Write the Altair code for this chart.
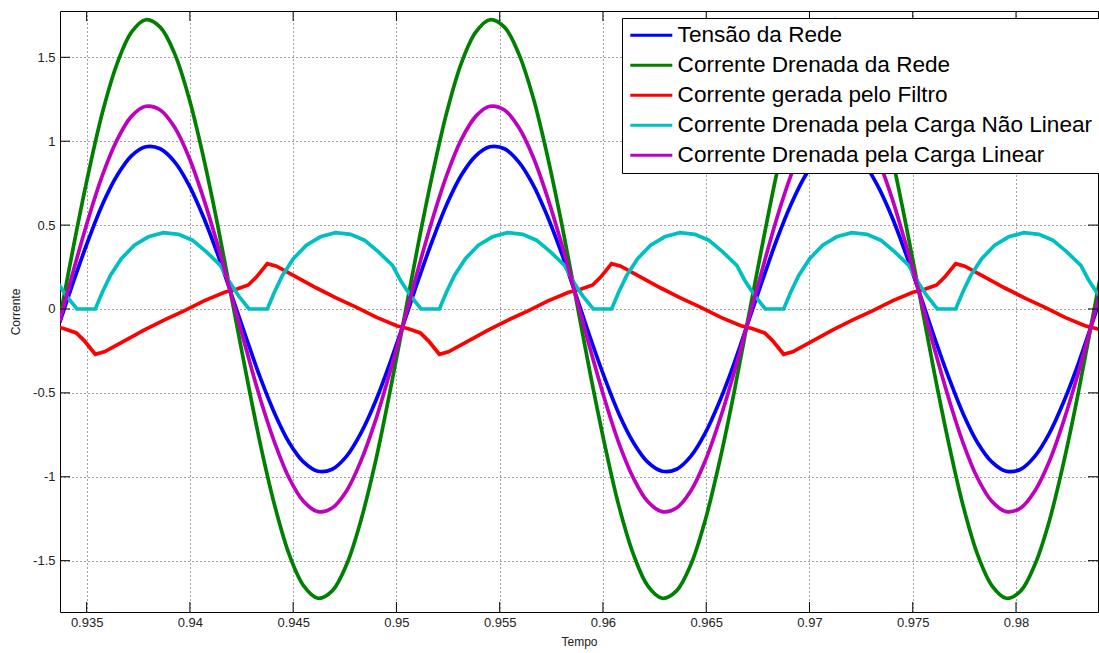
import altair as alt
import pandas as pd

nomes = [
    "Tensão da Rede",
    "Corrente Drenada da Rede",
    "Corrente gerada pelo Filtro",
    "Corrente Drenada pela Carga Não Linear",
    "Corrente Drenada pela Carga Linear",
]
cores = ["#0000FF", "#008000", "#FF0000", "#00BFBF", "#BF00BF"]

tempo = [
    0.93370, 0.93439, 0.93509, 0.93578, 0.93648, 0.93717, 0.93787, 0.93856, 0.93926, 0.93995, 0.94064, 0.94134,
    0.94203, 0.94273, 0.94342, 0.94412, 0.94481, 0.94551, 0.94620, 0.94689, 0.94759, 0.94828, 0.94898, 0.94967,
    0.95037, 0.95106, 0.95176, 0.95245, 0.95314, 0.95384, 0.95453, 0.95523, 0.95592, 0.95662, 0.95731, 0.95801,
    0.95870, 0.95939, 0.96009, 0.96078, 0.96148, 0.96217, 0.96287, 0.96356, 0.96426, 0.96495, 0.96564, 0.96634,
    0.96703, 0.96773, 0.96842, 0.96912, 0.96981, 0.97051, 0.97120, 0.97189, 0.97259, 0.97328, 0.97398, 0.97467,
    0.97537, 0.97606, 0.97676, 0.97745, 0.97814, 0.97884, 0.97953, 0.98023, 0.98092, 0.98162, 0.98231, 0.98301,
    0.98370, 0.98439,
]

tensao_rede = [
    -0.080, 0.173, 0.414, 0.627, 0.797, 0.913, 0.967, 0.955, 0.877, 0.740, 0.553, 0.328,
    0.080, -0.173, -0.414, -0.627, -0.797, -0.913, -0.967, -0.955, -0.877, -0.740, -0.553, -0.328,
    -0.080, 0.173, 0.414, 0.627, 0.797, 0.913, 0.967, 0.955, 0.877, 0.740, 0.553, 0.328,
    0.080, -0.173, -0.414, -0.627, -0.797, -0.913, -0.967, -0.955, -0.877, -0.740, -0.553, -0.328,
    -0.080, 0.173, 0.414, 0.627, 0.797, 0.913, 0.967, 0.955, 0.877, 0.740, 0.553, 0.328,
    0.080, -0.173, -0.414, -0.627, -0.797, -0.913, -0.967, -0.955, -0.877, -0.740, -0.553, -0.328,
    -0.080, 0.173,
]

corrente_rede = [
    -0.058, 0.390, 0.811, 1.178, 1.464, 1.650, 1.724, 1.680, 1.522, 1.260, 0.913, 0.503,
    0.058, -0.390, -0.811, -1.178, -1.464, -1.650, -1.724, -1.680, -1.522, -1.260, -0.913, -0.503,
    -0.058, 0.390, 0.811, 1.178, 1.464, 1.650, 1.724, 1.680, 1.522, 1.260, 0.913, 0.503,
    0.058, -0.390, -0.811, -1.178, -1.464, -1.650, -1.724, -1.680, -1.522, -1.260, -0.913, -0.503,
    -0.058, 0.390, 0.811, 1.178, 1.464, 1.650, 1.724, 1.680, 1.522, 1.260, 0.913, 0.503,
    0.058, -0.390, -0.811, -1.178, -1.464, -1.650, -1.724, -1.680, -1.522, -1.260, -0.913, -0.503,
    -0.058, 0.390,
]

corrente_carga_linear = [
    -0.073, 0.242, 0.541, 0.802, 1.009, 1.148, 1.208, 1.186, 1.083, 0.906, 0.667, 0.383,
    0.073, -0.242, -0.541, -0.802, -1.009, -1.148, -1.208, -1.186, -1.083, -0.906, -0.667, -0.383,
    -0.073, 0.242, 0.541, 0.802, 1.009, 1.148, 1.208, 1.186, 1.083, 0.906, 0.667, 0.383,
    0.073, -0.242, -0.541, -0.802, -1.009, -1.148, -1.208, -1.186, -1.083, -0.906, -0.667, -0.383,
    -0.073, 0.242, 0.541, 0.802, 1.009, 1.148, 1.208, 1.186, 1.083, 0.906, 0.667, 0.383,
    0.073, -0.242, -0.541, -0.802, -1.009, -1.148, -1.208, -1.186, -1.083, -0.906, -0.667, -0.383,
    -0.073, 0.242,
]

tempo_filtro = [
    0.93334,
    0.93392, 0.93450, 0.93489, 0.93542, 0.93586, 0.93683, 0.93780, 0.93877, 0.93974, 0.94071, 0.94168,
    0.94225, 0.94283, 0.94322, 0.94375, 0.94419, 0.94516, 0.94613, 0.94710, 0.94807, 0.94904, 0.95001,
    0.95058, 0.95116, 0.95155, 0.95208, 0.95252, 0.95349, 0.95446, 0.95543, 0.95640, 0.95737, 0.95834,
    0.95892, 0.95950, 0.95989, 0.96042, 0.96086, 0.96183, 0.96280, 0.96377, 0.96474, 0.96571, 0.96668,
    0.96725, 0.96783, 0.96822, 0.96875, 0.96919, 0.97016, 0.97113, 0.97210, 0.97307, 0.97404, 0.97501,
    0.97558, 0.97616, 0.97655, 0.97708, 0.97752, 0.97849, 0.97946, 0.98043, 0.98140, 0.98237, 0.98334,
    0.98392, 0.98450,
]
corrente_filtro = [
    -0.100,
    -0.118, -0.143, -0.190, -0.270, -0.255, -0.190, -0.125, -0.065, -0.010, 0.050, 0.100,
    0.118, 0.143, 0.190, 0.270, 0.255, 0.190, 0.125, 0.065, 0.010, -0.050, -0.100,
    -0.118, -0.143, -0.190, -0.270, -0.255, -0.190, -0.125, -0.065, -0.010, 0.050, 0.100,
    0.118, 0.143, 0.190, 0.270, 0.255, 0.190, 0.125, 0.065, 0.010, -0.050, -0.100,
    -0.118, -0.143, -0.190, -0.270, -0.255, -0.190, -0.125, -0.065, -0.010, 0.050, 0.100,
    0.118, 0.143, 0.190, 0.270, 0.255, 0.190, 0.125, 0.065, 0.010, -0.050, -0.100,
    -0.118, -0.143,
]

tempo_nao_linear = [
    0.93314, 0.93353, 0.93401,
    0.93453, 0.93542, 0.93576, 0.93615, 0.93668, 0.93731, 0.93799, 0.93872, 0.93945, 0.94012, 0.94080, 0.94148, 0.94187, 0.94235,
    0.94286, 0.94375, 0.94409, 0.94448, 0.94501, 0.94564, 0.94632, 0.94705, 0.94778, 0.94845, 0.94913, 0.94981, 0.95020, 0.95068,
    0.95119, 0.95208, 0.95242, 0.95281, 0.95334, 0.95397, 0.95465, 0.95538, 0.95611, 0.95678, 0.95746, 0.95814, 0.95853, 0.95901,
    0.95953, 0.96042, 0.96076, 0.96115, 0.96168, 0.96231, 0.96299, 0.96372, 0.96445, 0.96512, 0.96580, 0.96648, 0.96687, 0.96735,
    0.96786, 0.96875, 0.96909, 0.96948, 0.97001, 0.97064, 0.97132, 0.97205, 0.97278, 0.97345, 0.97413, 0.97481, 0.97520, 0.97568,
    0.97619, 0.97708, 0.97742, 0.97781, 0.97834, 0.97897, 0.97965, 0.98038, 0.98111, 0.98178, 0.98246, 0.98314, 0.98353, 0.98401,
    0.98453,
]
corrente_nao_linear = [
    0.26, 0.17, 0.08,
    0.0, 0.0, 0.10, 0.20, 0.30, 0.38, 0.43, 0.455, 0.445, 0.41, 0.34, 0.26, 0.17, 0.08,
    0.0, 0.0, 0.10, 0.20, 0.30, 0.38, 0.43, 0.455, 0.445, 0.41, 0.34, 0.26, 0.17, 0.08,
    0.0, 0.0, 0.10, 0.20, 0.30, 0.38, 0.43, 0.455, 0.445, 0.41, 0.34, 0.26, 0.17, 0.08,
    0.0, 0.0, 0.10, 0.20, 0.30, 0.38, 0.43, 0.455, 0.445, 0.41, 0.34, 0.26, 0.17, 0.08,
    0.0, 0.0, 0.10, 0.20, 0.30, 0.38, 0.43, 0.455, 0.445, 0.41, 0.34, 0.26, 0.17, 0.08,
    0.0, 0.0, 0.10, 0.20, 0.30, 0.38, 0.43, 0.455, 0.445, 0.41, 0.34, 0.26, 0.17, 0.08,
    0.0,
]

x_ticks = [0.935, 0.94, 0.945, 0.95, 0.955, 0.96, 0.965, 0.97, 0.975, 0.98]
y_ticks = [-1.5, -1.0, -0.5, 0.0, 0.5, 1.0, 1.5]

series = [
    (nomes[0], tempo, tensao_rede, "catmull-rom"),
    (nomes[1], tempo, corrente_rede, "catmull-rom"),
    (nomes[2], tempo_filtro, corrente_filtro, "linear"),
    (nomes[3], tempo_nao_linear, corrente_nao_linear, "linear"),
    (nomes[4], tempo, corrente_carga_linear, "catmull-rom"),
]

rows = []
for nome, ts, vs, _ in series:
    for t, v in zip(ts, vs):
        rows.append({"t": t, "v": v, "serie": nome})
df = pd.DataFrame(rows)

W, H = 1038, 601
FONT = "Liberation Sans"
x_scale = alt.Scale(domain=[0.93371, 0.98397], nice=False, zero=False)
y_scale = alt.Scale(domain=[-1.806, 1.776], nice=False, zero=False)

x_axis = alt.Axis(
    values=x_ticks,
    labelExpr="format(datum.value, '.3~f')",
    grid=True, gridDash=[1, 3], gridColor="#444444", gridWidth=1,
    ticks=False, domain=False,
    labelFont=FONT, labelFontSize=13, labelColor="#222222", labelPadding=4,
    title="Tempo", titleFont=FONT, titleFontSize=12, titleFontWeight="normal",
    titleColor="#222222", titleY=29, titleBaseline="middle",
)
y_axis = alt.Axis(
    values=y_ticks,
    labelExpr="datum.value < 0 ? '-' + format(-datum.value, '~g') : format(datum.value, '~g')",
    grid=True, gridDash=[1, 3], gridColor="#444444", gridWidth=1,
    ticks=False, domain=False,
    labelFont=FONT, labelFontSize=13, labelColor="#222222", labelPadding=5,
    title="Corrente", titleFont=FONT, titleFontSize=12, titleFontWeight="normal",
    titleColor="#222222", titleX=-45, titleBaseline="middle",
)

legend = alt.Legend(
    title=None, orient="none", legendX=562, legendY=7,
    symbolType="M-2.333,0H2.333", symbolSize=324, symbolStrokeWidth=3,
    symbolOffset=12, labelOffset=15,
    labelFont=FONT, labelFontSize=22.6, labelColor="black", labelLimit=0,
    padding=6, rowPadding=7,
    strokeColor="black", fillColor="white",
)
color = alt.Color("serie:N", scale=alt.Scale(domain=nomes, range=cores), sort=nomes, legend=legend)

X = lambda f: alt.X(f, scale=x_scale, axis=x_axis)
Y = lambda f: alt.Y(f, scale=y_scale, axis=y_axis)

layers = []
for nome, _, _, interp in series:
    layers.append(
        alt.Chart(df)
        .transform_filter(alt.datum.serie == nome)
        .mark_line(strokeWidth=3.7, clip=True, interpolate=interp)
        .encode(x=X("t:Q"), y=Y("v:Q"), color=color, order=alt.Order("t:Q"))
    )

xt = pd.DataFrame({"t": x_ticks})
yt = pd.DataFrame({"v": y_ticks})
tick_style = dict(color="black", strokeWidth=1)
ticks_bottom = alt.Chart(xt).mark_rule(**tick_style).encode(
    x=X("t:Q"), y=alt.value(H), y2=alt.value(H - 10))
ticks_top = alt.Chart(xt).mark_rule(**tick_style).encode(
    x=X("t:Q"), y=alt.value(0), y2=alt.value(10))
ticks_left = alt.Chart(yt).mark_rule(**tick_style).encode(
    y=Y("v:Q"), x=alt.value(0), x2=alt.value(10))
ticks_right = alt.Chart(yt).mark_rule(**tick_style).encode(
    y=Y("v:Q"), x=alt.value(W), x2=alt.value(W - 10))

chart = alt.layer(*layers, ticks_bottom, ticks_top, ticks_left, ticks_right).properties(
    width=W, height=H,
    autosize=alt.AutoSizeParams(type="none"),
    padding={"left": 60, "top": 11, "right": 1, "bottom": 41},
    background="white",
).configure_view(stroke="black", strokeWidth=1)

chart.save("out.html", embed_options={"renderer": "svg", "actions": False})
